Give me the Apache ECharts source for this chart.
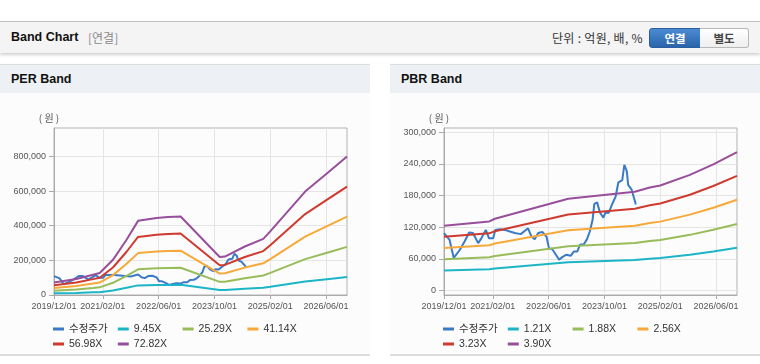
<!DOCTYPE html>
<html>
<head>
<meta charset="utf-8">
<script src="https://cdn.jsdelivr.net/npm/echarts@6/dist/echarts.min.js"></script>
<style>
  html, body { margin:0; padding:0; background:#fff; }
  body { width:760px; height:364px; position:relative; overflow:hidden; font-family:"Liberation Sans","Noto Sans CJK KR",sans-serif; }
  .topbar { position:absolute; left:0; top:21px; width:760px; height:31px; background:#f4f4f4; border-top:1px solid #c2c2c2; box-shadow:0 2px 3px rgba(0,0,0,0.18); }
  .title { position:absolute; left:11px; top:8px; font-weight:bold; font-size:12.5px; color:#111; }
  .sub { position:absolute; left:88px; top:8px; font-size:12px; color:#8a8a8a; font-family:"Noto Sans CJK KR",sans-serif; line-height:15px; }
  .unit { position:absolute; left:552px; top:8px; font-size:12px; color:#333; font-family:"Noto Sans CJK KR",sans-serif; line-height:15px; letter-spacing:0.3px; }
  .btn { position:absolute; top:6px; height:18px; line-height:18px; font-size:11.5px; font-weight:bold; text-align:center; font-family:"Noto Sans CJK KR",sans-serif; }
  .btn1 { left:649px; width:50px; background:linear-gradient(#4b8bd3,#2b64ab); color:#fff; border:1px solid #2a5e9d; border-radius:3px 0 0 3px; }
  .btn2 { left:700px; width:48px; background:linear-gradient(#ffffff,#eeeeee); color:#444; border:1px solid #b8b8b8; border-left:none; border-radius:0 3px 3px 0; }
  .panel { position:absolute; top:64px; width:370px; height:289px; background:#fcfcfc; border-top:1px solid #dcdcdc; border-bottom:2px solid #dddddd; }
  .phead { position:absolute; left:0; top:0; width:370px; height:28px; background:#edf1f6; }
  .ptitle { position:absolute; left:11px; top:7px; font-weight:bold; font-size:12.5px; color:#111; }
  #chart { position:absolute; left:0; top:0; width:760px; height:364px; }
</style>
</head>
<body>
<div class="topbar">
  <div class="title">Band Chart</div>
  <div class="sub">[연결]</div>
  <div class="unit">단위 : 억원, 배, %</div>
  <div class="btn btn1">연결</div>
  <div class="btn btn2">별도</div>
</div>
<div class="panel" style="left:0;"><div class="phead"><div class="ptitle">PER Band</div></div></div>
<div class="panel" style="left:390px;"><div class="phead"><div class="ptitle">PBR Band</div></div></div>
<div id="chart"></div>
<script>
// ---- x axis: months counted from 2019/12/01 ----
const xTickMonths = [0, 14, 30, 46, 62, 78];
const xTickLabels = ['2019/12/01', '2021/02/01', '2022/06/01', '2023/10/01', '2025/02/01', '2026/06/01'];
const perYTicks = [0, 200000, 400000, 600000, 800000];
const pbrYTicks = [0, 60000, 120000, 180000, 240000, 300000];

// ---- adjusted price (수정주가) ----
const priceMonths = [0,1.6,2.8,4.5,5.9,7.2,8.3,9.8,10.7,12,12.9,14.1,14.7,16,17.4,18.9,20.3,22,24.1,25.1,26,27,28.2,29.4,30.1,31,32.1,33,34,35.1,36.3,37.2,38.2,39,40.1,41,41.8,42.6,43.1,43.9,44.7,45.7,46.3,47.2,48.1,49.2,50,51.1,51.7,52.4,52.8,53.8,55];
const priceValues = [109000,96000,62000,77000,93000,110000,109000,90000,99000,115000,99000,99000,115000,116000,115000,112000,109000,107000,118000,102000,97500,109000,111000,102000,80000,79000,68000,58500,64000,68000,66000,74000,74000,87000,88000,97500,112000,134000,164000,167000,148000,138000,148000,147000,162000,178000,205000,209000,238000,226000,200000,191000,163000];

// ---- PER bands ----
const perBandMonths = [0,6.4,11.2,13.1,16.9,20.8,24.1,29.4,32.7,36.3,47.5,49,54.7,60,62,72,78.3,84];
const per945  = [9400,11900,15200,16500,26300,41400,55500,57600,58400,58800,28400,28800,36300,42000,47600,77500,91200,103800];
const per2529 = [25200,32000,40600,44100,70500,110800,148600,154200,156300,157300,76100,77100,97200,112500,127500,207300,244200,277800];
const per4114 = [41000,52000,66100,71800,114700,180200,241800,250800,254200,255900,123700,125400,158200,183000,207300,337300,397200,452000];
const per5698 = [56800,72000,91600,99400,158800,249600,334900,347400,352100,354500,171400,173700,219100,253500,287200,467100,550100,626000];
const per7282 = [72600,92000,117000,127000,203000,319000,428000,444000,450000,453000,219000,222000,280000,324000,367000,597000,703000,800000];

// ---- PBR bands ----
const pbrBandMonths = [0,13,14.6,35.6,54.7,59,62,70.5,77.2,84];
const pbr121 = [38200,40600,42200,54000,58000,60500,61700,68000,74200,81300];
const pbr188 = [59300,63100,65600,83900,90100,94000,95900,105600,115200,126300];
const pbr256 = [80700,86000,89300,114200,122800,128000,130600,143800,156900,172000];
const pbr323 = [101900,108500,112600,144100,154900,161500,164800,181400,197900,217000];
const pbr390 = [123000,131000,136000,174000,187000,195000,199000,219000,239000,262000];

const colors = { price:'#3b7ac6', c1:'#1cb5c8', c2:'#98bc5a', c3:'#f6a939', c4:'#cf3a2f', c5:'#984f9b' };
const zip = (xs, ys) => xs.map((x, i) => [x, ys[i]]);
const fmtNum = v => Math.round(v).toLocaleString('en-US');
const fmtMonth = v => { const i = xTickMonths.indexOf(Math.round(v)); return i >= 0 ? xTickLabels[i] : ''; };

const labelFont = 'Liberation Sans';
function xAxis(gi) {
  return {
    gridIndex: gi, type: 'value', min: 0, max: 84,
    axisLine: { show: true, onZero: false, lineStyle: { color: '#aaaaaa' } },
    axisTick: { show: true, customValues: xTickMonths, length: 4, lineStyle: { color: '#aaaaaa' } },
    axisLabel: { customValues: xTickMonths, formatter: fmtMonth, fontSize: 9, color: '#555', margin: 7, fontFamily: labelFont },
    splitLine: { show: true, lineStyle: { color: '#e5e5e5', width: 1 } }
  };
}
function yAxis(gi, min, max, ticks) {
  return {
    gridIndex: gi, type: 'value', min: min, max: max,
    name: '( 원 )', nameLocation: 'end', nameGap: 5,
    nameTextStyle: { color: '#555', fontSize: 10, padding: [0, 10, 0, 0], fontFamily: 'Noto Sans CJK KR' },
    axisLine: { show: true, onZero: false, lineStyle: { color: '#aaaaaa' } },
    axisTick: { show: true, customValues: ticks, length: 5, lineStyle: { color: '#aaaaaa' } },
    axisLabel: { customValues: ticks, formatter: fmtNum, fontSize: 9, color: '#555', margin: 8, fontFamily: labelFont },
    splitLine: { show: true, lineStyle: { color: '#e5e5e5', width: 1 } }
  };
}
function line(name, gi, data, color, z) {
  return {
    name: name, type: 'line', xAxisIndex: gi, yAxisIndex: gi, data: data,
    showSymbol: false, symbol: 'none', z: z,
    lineStyle: { color: color, width: 2 }, itemStyle: { color: color },
    animation: false
  };
}
const legendBase = {
  icon: 'rect', itemWidth: 11, itemHeight: 3, itemGap: 8.8, padding: 0,
  selectedMode: false,
  textStyle: { fontSize: 10.5, color: '#333', width: 40, lineHeight: 12, fontFamily: 'Liberation Sans, Noto Sans CJK KR' }
};

const chart = echarts.init(document.getElementById('chart'), null, { renderer: 'canvas' });
chart.setOption({
  animation: false,
  backgroundColor: 'transparent',
  grid: [
    { left: 54, top: 128, width: 293, height: 167, show: true, borderColor: '#b2b2b2', borderWidth: 1, backgroundColor: 'transparent' },
    { left: 444, top: 128, width: 293, height: 167, show: true, borderColor: '#b2b2b2', borderWidth: 1, backgroundColor: 'transparent' }
  ],
  xAxis: [xAxis(0), xAxis(1)],
  yAxis: [yAxis(0, 0, 964000, perYTicks), yAxis(1, -8100, 307600, pbrYTicks)],
  legend: [
    Object.assign({}, legendBase, { data: ['수정주가', '9.45X', '25.29X', '41.14X'], left: 53, top: 323 }),
    Object.assign({}, legendBase, { data: ['56.98X', '72.82X'], left: 53, top: 338 }),
    Object.assign({}, legendBase, { data: ['수정주가', '1.21X', '1.88X', '2.56X'], left: 443, top: 323 }),
    Object.assign({}, legendBase, { data: ['3.23X', '3.90X'], left: 443, top: 338 })
  ],
  series: [
    line('수정주가', 0, zip(priceMonths, priceValues), colors.price, 2),
    line('9.45X', 0, zip(perBandMonths, per945), colors.c1, 3),
    line('25.29X', 0, zip(perBandMonths, per2529), colors.c2, 3),
    line('41.14X', 0, zip(perBandMonths, per4114), colors.c3, 3),
    line('56.98X', 0, zip(perBandMonths, per5698), colors.c4, 3),
    line('72.82X', 0, zip(perBandMonths, per7282), colors.c5, 3),
    line('수정주가', 1, zip(priceMonths, priceValues), colors.price, 2),
    line('1.21X', 1, zip(pbrBandMonths, pbr121), colors.c1, 3),
    line('1.88X', 1, zip(pbrBandMonths, pbr188), colors.c2, 3),
    line('2.56X', 1, zip(pbrBandMonths, pbr256), colors.c3, 3),
    line('3.23X', 1, zip(pbrBandMonths, pbr323), colors.c4, 3),
    line('3.90X', 1, zip(pbrBandMonths, pbr390), colors.c5, 3)
  ]
});
</script>
</body>
</html>
